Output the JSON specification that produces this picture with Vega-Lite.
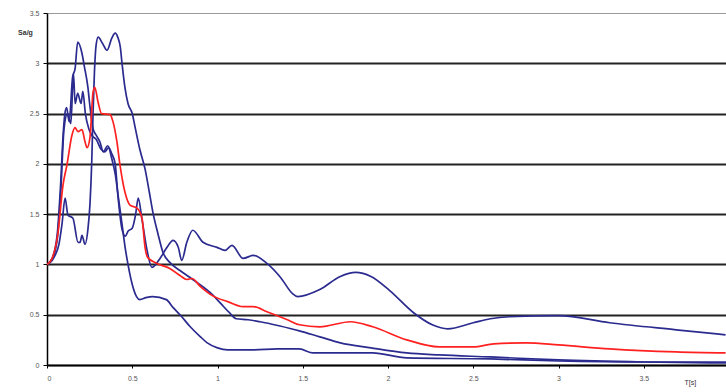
{
  "$schema": "https://vega.github.io/schema/vega-lite/v6.json",
  "width": 682,
  "height": 352,
  "autosize": {"type": "none"},
  "padding": {"left": 47, "top": 13, "right": 0, "bottom": 27},
  "background": "white",
  "config": {"view": {"stroke": null}},
  "datasets": {
    "curves": [
      {"s":"A","T":0,"v":1.0},{"s":"A","T":0.03,"v":1.04},{"s":"A","T":0.047,"v":1.09},{"s":"A","T":0.07,"v":1.2},{"s":"A","T":0.088,"v":1.4},{"s":"A","T":0.106,"v":1.66},{"s":"A","T":0.123,"v":1.49},{"s":"A","T":0.152,"v":1.46},{"s":"A","T":0.182,"v":1.22},{"s":"A","T":0.194,"v":1.22},{"s":"A","T":0.205,"v":1.29},{"s":"A","T":0.223,"v":1.2},{"s":"A","T":0.24,"v":1.35},{"s":"A","T":0.252,"v":1.6},{"s":"A","T":0.262,"v":2.0},{"s":"A","T":0.27,"v":2.5},{"s":"A","T":0.278,"v":2.9},{"s":"A","T":0.288,"v":3.18},{"s":"A","T":0.3,"v":3.26},{"s":"A","T":0.325,"v":3.2},{"s":"A","T":0.352,"v":3.13},{"s":"A","T":0.38,"v":3.25},{"s":"A","T":0.4,"v":3.3},{"s":"A","T":0.415,"v":3.26},{"s":"A","T":0.43,"v":3.16},{"s":"A","T":0.44,"v":3.0},{"s":"A","T":0.457,"v":2.76},{"s":"A","T":0.475,"v":2.6},{"s":"A","T":0.5,"v":2.5},{"s":"A","T":0.516,"v":2.37},{"s":"A","T":0.545,"v":2.14},{"s":"A","T":0.575,"v":1.95},{"s":"A","T":0.6,"v":1.72},{"s":"A","T":0.622,"v":1.51},{"s":"A","T":0.65,"v":1.31},{"s":"A","T":0.68,"v":1.12},{"s":"A","T":0.72,"v":1.02},{"s":"A","T":0.78,"v":0.94},{"s":"A","T":0.83,"v":0.88},{"s":"A","T":0.88,"v":0.82},{"s":"A","T":0.97,"v":0.7},{"s":"A","T":1.02,"v":0.61},{"s":"A","T":1.07,"v":0.52},{"s":"A","T":1.11,"v":0.46},{"s":"A","T":1.18,"v":0.45},{"s":"A","T":1.25,"v":0.43},{"s":"A","T":1.36,"v":0.39},{"s":"A","T":1.48,"v":0.34},{"s":"A","T":1.6,"v":0.28},{"s":"A","T":1.72,"v":0.22},{"s":"A","T":1.9,"v":0.17},{"s":"A","T":2.11,"v":0.12},{"s":"A","T":2.3,"v":0.1},{"s":"A","T":2.6,"v":0.08},{"s":"A","T":3.0,"v":0.05},{"s":"A","T":3.5,"v":0.03},{"s":"A","T":4.0,"v":0.02},
      {"s":"C","T":0,"v":1.0},{"s":"C","T":0.03,"v":1.06},{"s":"C","T":0.06,"v":1.3},{"s":"C","T":0.08,"v":1.8},{"s":"C","T":0.095,"v":2.3},{"s":"C","T":0.105,"v":2.5},{"s":"C","T":0.115,"v":2.56},{"s":"C","T":0.13,"v":2.42},{"s":"C","T":0.15,"v":2.86},{"s":"C","T":0.165,"v":2.95},{"s":"C","T":0.18,"v":3.21},{"s":"C","T":0.205,"v":3.1},{"s":"C","T":0.22,"v":2.96},{"s":"C","T":0.24,"v":2.76},{"s":"C","T":0.25,"v":2.6},{"s":"C","T":0.27,"v":2.35},{"s":"C","T":0.29,"v":2.28},{"s":"C","T":0.31,"v":2.22},{"s":"C","T":0.33,"v":2.12},{"s":"C","T":0.355,"v":2.18},{"s":"C","T":0.38,"v":2.1},{"s":"C","T":0.4,"v":2.0},{"s":"C","T":0.415,"v":1.7},{"s":"C","T":0.44,"v":1.35},{"s":"C","T":0.46,"v":1.28},{"s":"C","T":0.475,"v":1.33},{"s":"C","T":0.5,"v":1.36},{"s":"C","T":0.52,"v":1.5},{"s":"C","T":0.535,"v":1.66},{"s":"C","T":0.557,"v":1.45},{"s":"C","T":0.587,"v":1.14},{"s":"C","T":0.615,"v":0.97},{"s":"C","T":0.663,"v":1.06},{"s":"C","T":0.7,"v":1.16},{"s":"C","T":0.74,"v":1.24},{"s":"C","T":0.77,"v":1.17},{"s":"C","T":0.79,"v":1.04},{"s":"C","T":0.82,"v":1.22},{"s":"C","T":0.855,"v":1.34},{"s":"C","T":0.915,"v":1.22},{"s":"C","T":0.997,"v":1.17},{"s":"C","T":1.044,"v":1.14},{"s":"C","T":1.085,"v":1.19},{"s":"C","T":1.15,"v":1.06},{"s":"C","T":1.21,"v":1.09},{"s":"C","T":1.29,"v":1.01},{"s":"C","T":1.37,"v":0.87},{"s":"C","T":1.44,"v":0.71},{"s":"C","T":1.47,"v":0.68},{"s":"C","T":1.6,"v":0.75},{"s":"C","T":1.72,"v":0.88},{"s":"C","T":1.81,"v":0.92},{"s":"C","T":1.9,"v":0.88},{"s":"C","T":2.01,"v":0.74},{"s":"C","T":2.15,"v":0.52},{"s":"C","T":2.26,"v":0.4},{"s":"C","T":2.35,"v":0.36},{"s":"C","T":2.5,"v":0.42},{"s":"C","T":2.6,"v":0.46},{"s":"C","T":2.71,"v":0.48},{"s":"C","T":3.0,"v":0.49},{"s":"C","T":3.3,"v":0.42},{"s":"C","T":3.69,"v":0.35},{"s":"C","T":3.98,"v":0.3},
      {"s":"D","T":0,"v":1.0},{"s":"D","T":0.03,"v":1.05},{"s":"D","T":0.06,"v":1.25},{"s":"D","T":0.08,"v":1.7},{"s":"D","T":0.1,"v":2.35},{"s":"D","T":0.12,"v":2.5},{"s":"D","T":0.14,"v":2.4},{"s":"D","T":0.155,"v":2.9},{"s":"D","T":0.165,"v":2.6},{"s":"D","T":0.18,"v":2.7},{"s":"D","T":0.2,"v":2.6},{"s":"D","T":0.21,"v":2.72},{"s":"D","T":0.225,"v":2.5},{"s":"D","T":0.245,"v":2.35},{"s":"D","T":0.265,"v":2.28},{"s":"D","T":0.29,"v":2.24},{"s":"D","T":0.315,"v":2.15},{"s":"D","T":0.34,"v":2.12},{"s":"D","T":0.36,"v":2.16},{"s":"D","T":0.38,"v":2.05},{"s":"D","T":0.4,"v":1.9},{"s":"D","T":0.42,"v":1.65},{"s":"D","T":0.44,"v":1.4},{"s":"D","T":0.46,"v":1.15},{"s":"D","T":0.475,"v":1.0},{"s":"D","T":0.5,"v":0.8},{"s":"D","T":0.525,"v":0.68},{"s":"D","T":0.545,"v":0.65},{"s":"D","T":0.58,"v":0.67},{"s":"D","T":0.62,"v":0.68},{"s":"D","T":0.7,"v":0.65},{"s":"D","T":0.74,"v":0.57},{"s":"D","T":0.78,"v":0.5},{"s":"D","T":0.84,"v":0.38},{"s":"D","T":0.9,"v":0.28},{"s":"D","T":0.94,"v":0.22},{"s":"D","T":1.0,"v":0.17},{"s":"D","T":1.06,"v":0.15},{"s":"D","T":1.21,"v":0.15},{"s":"D","T":1.35,"v":0.16},{"s":"D","T":1.48,"v":0.16},{"s":"D","T":1.56,"v":0.12},{"s":"D","T":1.91,"v":0.12},{"s":"D","T":2.11,"v":0.07},{"s":"D","T":2.6,"v":0.06},{"s":"D","T":3.0,"v":0.04},{"s":"D","T":3.5,"v":0.03},{"s":"D","T":4.0,"v":0.03},
      {"s":"R","T":0,"v":1.0},{"s":"R","T":0.03,"v":1.06},{"s":"R","T":0.065,"v":1.32},{"s":"R","T":0.094,"v":1.79},{"s":"R","T":0.117,"v":1.99},{"s":"R","T":0.147,"v":2.29},{"s":"R","T":0.164,"v":2.36},{"s":"R","T":0.182,"v":2.32},{"s":"R","T":0.205,"v":2.34},{"s":"R","T":0.223,"v":2.22},{"s":"R","T":0.235,"v":2.16},{"s":"R","T":0.252,"v":2.26},{"s":"R","T":0.27,"v":2.71},{"s":"R","T":0.28,"v":2.76},{"s":"R","T":0.3,"v":2.61},{"s":"R","T":0.32,"v":2.5},{"s":"R","T":0.37,"v":2.49},{"s":"R","T":0.387,"v":2.42},{"s":"R","T":0.41,"v":2.22},{"s":"R","T":0.428,"v":1.99},{"s":"R","T":0.457,"v":1.72},{"s":"R","T":0.487,"v":1.59},{"s":"R","T":0.528,"v":1.56},{"s":"R","T":0.557,"v":1.46},{"s":"R","T":0.575,"v":1.17},{"s":"R","T":0.59,"v":1.07},{"s":"R","T":0.645,"v":1.01},{"s":"R","T":0.72,"v":0.96},{"s":"R","T":0.78,"v":0.89},{"s":"R","T":0.82,"v":0.85},{"s":"R","T":0.85,"v":0.86},{"s":"R","T":0.9,"v":0.78},{"s":"R","T":0.97,"v":0.69},{"s":"R","T":1.06,"v":0.63},{"s":"R","T":1.15,"v":0.58},{"s":"R","T":1.21,"v":0.58},{"s":"R","T":1.29,"v":0.53},{"s":"R","T":1.41,"v":0.45},{"s":"R","T":1.48,"v":0.4},{"s":"R","T":1.6,"v":0.38},{"s":"R","T":1.78,"v":0.43},{"s":"R","T":1.91,"v":0.38},{"s":"R","T":2.11,"v":0.25},{"s":"R","T":2.3,"v":0.18},{"s":"R","T":2.5,"v":0.18},{"s":"R","T":2.62,"v":0.21},{"s":"R","T":2.81,"v":0.22},{"s":"R","T":3.0,"v":0.2},{"s":"R","T":3.3,"v":0.16},{"s":"R","T":3.69,"v":0.13},{"s":"R","T":3.98,"v":0.12}
    ]
  },
  "data": {"name": "curves"},
  "mark": {"type": "line", "interpolate": "monotone", "strokeWidth": 1.7, "clip": true},
  "encoding": {
    "x": {
      "field": "T", "type": "quantitative",
      "scale": {"domain": [0, 4], "nice": false, "zero": true},
      "axis": {
        "values": [0, 0.5, 1, 1.5, 2, 2.5, 3, 3.5],
        "format": ".1~f",
        "grid": false,
        "domainColor": "#000", "domainWidth": 1.5,
        "tickColor": "#000", "tickSize": 3,
        "labelFontSize": 7, "labelColor": "#555", "labelFont": "Arial", "labelPadding": 6,
        "title": "T[s]", "titleFontSize": 7, "titleFont": "Arial", "titleColor": "#333", "titleFontWeight": "normal",
        "titleAlign": "left", "titleAnchor": "start", "titleX": 637, "titleY": 17, "titleBaseline": "middle"
      }
    },
    "y": {
      "field": "v", "type": "quantitative",
      "scale": {"domain": [0, 3.5], "nice": false},
      "axis": {
        "values": [0, 0.5, 1, 1.5, 2, 2.5, 3, 3.5],
        "format": ".1~f",
        "grid": true,
        "gridColor": {"condition": {"test": "datum.value == 3.5", "value": "#999"}, "value": "#222"},
        "gridWidth": {"condition": {"test": "datum.value == 3.5", "value": 1}, "value": 1.8},
        "domainColor": "#000", "domainWidth": 1.5,
        "tickColor": "#000", "tickSize": 4,
        "labelFontSize": 7, "labelColor": "#555", "labelFont": "Arial", "labelPadding": 4,
        "title": "Sa/g", "titleFontSize": 7, "titleFont": "Arial", "titleColor": "#333", "titleFontWeight": "bold",
        "titleAngle": 0, "titleX": -22, "titleY": 19, "titleAlign": "center", "titleBaseline": "middle"
      }
    },
    "color": {
      "field": "s", "type": "nominal",
      "scale": {"domain": ["A", "C", "D", "R"], "range": ["#2b2b8f", "#2b2b8f", "#2b2b8f", "#ff2020"]},
      "legend": null
    }
  }
}
